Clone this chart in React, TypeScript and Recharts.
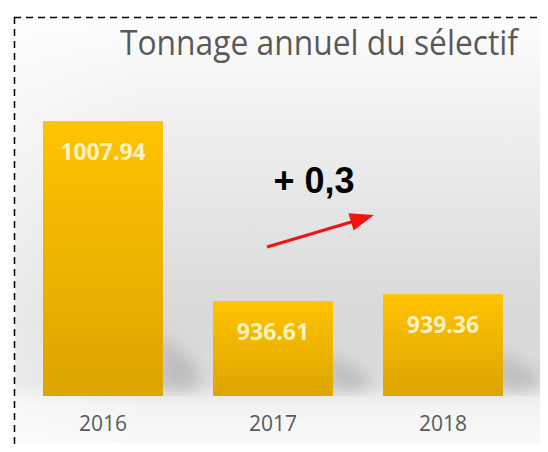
import React from 'react';
import { BarChart, Bar, XAxis, YAxis } from 'recharts';

const categories = ['2016', '2017', '2018'];
const tonnage = [1007.94, 936.61, 939.36];
const valueLabels = ['1007.94', '936.61', '939.36'];
const titleText = 'Tonnage annuel du sélectif';
const deltaText = '+ 0,3';

const data = categories.map((c, i) => ({ year: c, value: tonnage[i], label: valueLabels[i] }));

const BarShape = (props: any) => {
  const { x, y, width, height } = props;
  const bottom = y + height;
  const sh = Math.min(62, height * 0.45);
  const right = x + width;
  return (
    <g>
      <polygon
        points={`${right - 4},${bottom - sh} ${right + 34},${bottom - sh * 0.5} ${right + 36},${bottom - 6} ${right - 4},${bottom - 4}`}
        fill="#808080"
        opacity={0.32}
        filter="url(#shadowBlur)"
      />
      <rect x={x} y={y} width={width} height={height} fill="url(#barGrad)" />
    </g>
  );
};

const ValueLabel = (props: any) => {
  const { x, y, width, index } = props;
  return (
    <text
      x={x + width / 2}
      y={y + 38.5}
      textAnchor="middle"
      fill="#fdf1c4"
      fontFamily="'Open Sans', sans-serif"
      fontWeight={700}
      fontSize={23}
    >
      {data[index].label}
    </text>
  );
};

const YearTick = (props: any) => {
  const { x, y, payload } = props;
  return (
    <text
      x={x}
      y={y + 35}
      textAnchor="middle"
      fill="#595959"
      fontFamily="'Open Sans', sans-serif"
      fontSize={21}
    >
      {payload.value}
    </text>
  );
};

export default function App() {
  return (
    <div style={{ position: 'relative', width: 548, height: 452, margin: -8, overflow: 'hidden', background: '#ffffff' }}>
      <div
        style={{
          position: 'absolute',
          left: 15,
          top: 18,
          right: 0,
          bottom: 0,
          background:
            'linear-gradient(to right, rgba(255,255,255,0.45) 0%, rgba(255,255,255,0) 25%), linear-gradient(to bottom, #fdfdfd 0%, #f6f6f6 12%, #e6e6e6 42%, #d8d8d8 70%, #dcdcdc 84%, #f2f2f2 89%, #fbfbfb 100%)',
        }}
      />
      <div style={{ position: 'absolute', left: 0, top: 0 }}>
        <BarChart width={548} height={452} data={data} margin={{ top: 15, right: 20, left: 18, bottom: 26 }}>
          <defs>
            <linearGradient id="barGrad" x1="0" y1="0" x2="0" y2="1">
              <stop offset="0%" stopColor="#ffc300" />
              <stop offset="100%" stopColor="#dca500" />
            </linearGradient>
            <filter id="shadowBlur" x="-60%" y="-60%" width="220%" height="220%">
              <feGaussianBlur stdDeviation="8" />
            </filter>
          </defs>
          <XAxis
            dataKey="year"
            axisLine={false}
            tickLine={false}
            tickSize={0}
            tickMargin={0}
            height={30}
            tick={<YearTick />}
            interval={0}
          />
          <YAxis hide domain={[899, 1050]} allowDataOverflow type="number" />
          <Bar dataKey="value" barSize={120} shape={<BarShape />} label={<ValueLabel />} isAnimationActive={false} />
        </BarChart>
      </div>
      <svg width={548} height={452} style={{ position: 'absolute', left: 0, top: 0, pointerEvents: 'none' }}>
        <line x1={14} y1={17.5} x2={548} y2={17.5} stroke="#000" strokeWidth={1.5} strokeDasharray="7 5" />
        <line x1={14.5} y1={17} x2={14.5} y2={452} stroke="#000" strokeWidth={1.5} strokeDasharray="7 5" />
        <text
          x={120}
          y={55}
          fill="#595959"
          fontFamily="'Open Sans', sans-serif"
          fontSize={34}
          textLength={398}
          lengthAdjust="spacingAndGlyphs"
        >
          {titleText}
        </text>
        <text x={273.5} y={193} fill="#000" fontFamily="'Liberation Sans', Arial, sans-serif" fontWeight={700} fontSize={36}>
          {deltaText}
        </text>
        <line x1={267} y1={247} x2={353} y2={221.5} stroke="#f21212" strokeWidth={3} />
        <polygon points="374,215 353.6,230.5 348.4,213.3" fill="#f21212" />
      </svg>
    </div>
  );
}
